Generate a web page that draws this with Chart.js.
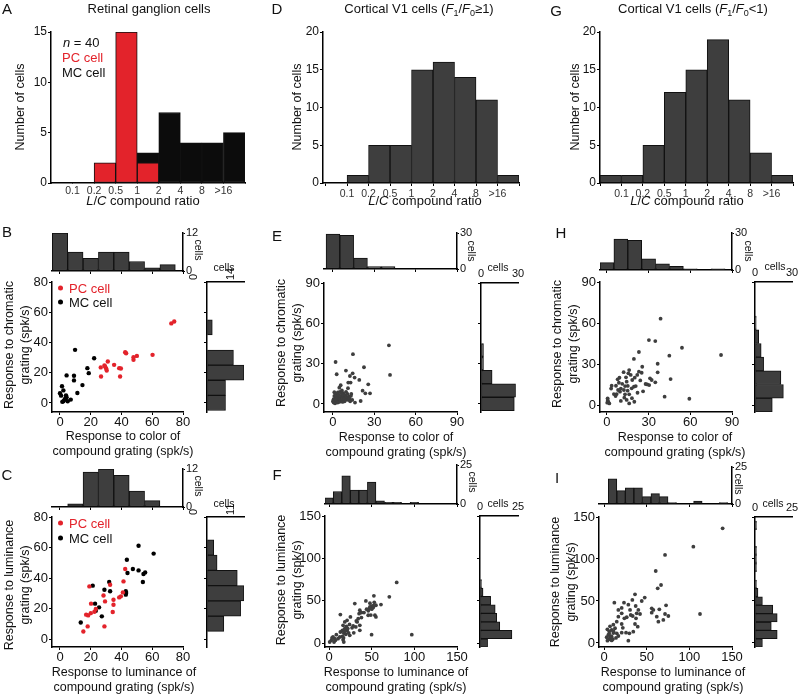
<!DOCTYPE html>
<html>
<head>
<meta charset="utf-8">
<script src="https://cdn.jsdelivr.net/npm/chart.js@4.4.1/dist/chart.umd.min.js"></script>
<style>
body { margin: 0; background: #fff; }
#fig { position: relative; width: 800px; height: 694px; overflow: hidden; font-family: "Liberation Sans", Arial, sans-serif; color: #111; }
#fig canvas { position: absolute; }
.t { position: absolute; white-space: nowrap; transform: translate(-50%, -50%); line-height: 15px; text-align: center; }
sub { font-size: 9px; vertical-align: -3px; line-height: 0; }
.dot { display: inline-block; width: 5px; height: 5px; border-radius: 50%; margin-right: 6px; vertical-align: 2px; }
</style>
</head>
<body>
<div id="fig"></div>
<script>
// L/C ratio histograms (bins: <0.1, 0.1-0.2, ... , >16)
const ratioTicks = ['0.1', '0.2', '0.5', '1', '2', '4', '8', '>16'];
const aPC = [0, 0, 2, 15, 2, 0, 0, 0, 0];
const aMC = [0, 0, 0, 0, 1, 7, 4, 4, 5];
const dCounts = [0, 1, 5, 5, 15, 16, 14, 11, 1];
const gCounts = [1, 1, 5, 12, 15, 19, 11, 4, 1];

const ticks80 = [0, 20, 40, 60, 80];
const ticks90 = [0, 30, 60, 90];
const ticks150 = [0, 50, 100, 150];

// B: color of compound vs chromatic (retina)
const bPC = [[72.4,52.6],[74.3,53.9],[42.4,33.5],[43,32.9],[50,31.1],[47.8,30.2],[47.8,28.5],[60.2,31.8],[31.1,27.4],[26.5,23.5],[29.3,24.1],[30,22.8],[30.4,21.5],[35.2,25.2],[38.5,23],[39.6,22.8],[26.7,17.5],[39.1,17.5],[28.9,24.8]];
const bMC = [[9.8,35.1],[22.2,29.6],[17.8,23],[18.7,19.7],[9.1,18],[9.1,14.9],[4.3,18.2],[14.6,11.8],[1.3,11],[2.2,8.3],[0,6.4],[3.9,5],[4.3,3.7],[3,2.2],[1.5,0.7],[11.3,6.6],[7,2.2],[5,1.1],[3.5,3.1],[2.2,1.1],[0.7,4.8]];
const bTop = [12, 6, 4, 6, 6, 3, 1, 2];
const bRight = [7, 7, 14, 10, 0, 2, 0];

// C: luminance of compound vs luminance (retina)
const cPC = [[42.4,45.9],[41.3,37.8],[40.9,30.6],[39.6,28],[38.5,27.3],[32.6,35.6],[34.8,25.8],[34.8,22.5],[34.3,17.7],[29.3,24.7],[28.3,28.6],[19.1,34.5],[20.2,23.2],[23.3,19.7],[22.4,17.9],[20,17],[17,16],[18,8.3],[15.2,5],[28.9,8.3],[18.3,15.5]];
const cMC = [[51.1,61.2],[60.9,56],[43.5,52],[43.9,43.3],[47.4,45.9],[51.1,45],[55.4,43.7],[54.3,42.6],[53.9,37.4],[42.8,31.3],[42.8,29.1],[32,37.4],[32.6,31.3],[28.9,32.3],[21.3,35],[22.8,23.2],[23.3,18.6],[25.4,20.8],[27.2,14.9],[13.5,10.9],[43,30.2]];
const cTop = [0, 1, 11, 12, 10, 5, 2];
const cRight = [0, 5, 10, 11, 9, 3, 2];

// E: V1 F1/F0>=1, color vs chromatic
const eCells = [[40.6,43.6],[41.4,21.6],[14.5,37],[1.9,31.2],[2.7,22.1],[9.4,24.8],[14.3,22.8],[22.5,27.3],[15.7,19.6],[12.3,20.8],[12.8,15.9],[11.1,15.9],[19.1,17.9],[25.6,14.6],[5.6,13.9],[4.6,12.1],[21.5,9.9],[26.9,7.9],[23.5,7.9],[10.9,11.7],[13.3,7.4],[20.1,2.2],[16,1],[1,8.7],
  [0.5,1],[1,2.5],[1.5,4],[2,1],[2.5,3],[3,5.5],[3,2],[1,6],[4,3],[4.5,1.5],[2,7],[3.5,8.5],[0.5,3.5],[2.5,5],[4,6.5],[1.5,0.5],[3.5,1],[4.5,4.5],[0,2],[2,3.5],
  [5,4],[5.5,2],[6,6],[6.5,3],[7,5],[7.5,8],[8,4],[8.5,2],[9,6],[9.5,3.5],[10,5],[10.5,7.5],[11,3],[11.5,5.5],[12,4],[12.5,2],[13,6],[14,3],[5,9],[6.5,10],[7,1.5],[8,7],[9.5,9],[6,8]];
const eTop = [29, 28, 9, 2, 2, 0, 0, 0, 0];
const eRight = [27, 28, 9, 2, 2, 0, 0, 0, 0];

// F: V1 F1/F0>=1, luminance
const fCells = [[79.3,71.5],[70.7,54.5],[52.6,55.7],[43.2,49.7],[30.2,46.6],[60.9,45.4],[55,44.6],[49.9,43.4],[47.9,42.6],[51.8,41.8],[47.1,40.7],[36.1,38.7],[38.1,35.9],[35.3,34.7],[45.9,32.8],[53.8,32.8],[55,30.8],[25.1,30.8],[13.3,33.6],[34.2,28.8],[33,24.9],[36.1,20.9],[31.4,19],[28.3,20.1],[36.1,15],[21.2,26.8],[18.5,24.9],[16.5,20.9],[20.4,19.7],[18.5,17],[21.2,15],[15.7,15],[17.3,11.8],[13.3,13],[19.6,10.3],[15.7,7.9],[16.5,3.9],[17.3,1.2],[8.6,9.9],[4.7,7.1],[6.7,5.1],[2.7,3.2],[0.8,1.2],[10.6,5.1],[7.5,3.2],[49.9,9.9],[97,9.9],[24.3,9.1],[12.6,7.1],[5.9,1.2],
  [3.5,6],[17,6],[19,14],[22,17],[23,12],[24,22],[27,18],[32,26],[29,12],[38,30],[41,36],[44,40],[48,47],[50,40],[52,44],[46,38],[53,48],[49,33]];
const fTop = [4, 8, 18, 9, 9, 14, 2, 1, 1, 0, 1, 0, 0, 0, 0];
const fRight = [5, 21, 13, 11, 10, 7, 2, 1, 0, 0, 0, 0, 0, 0, 0];

// H: V1 F1/F0<1, color vs chromatic
const hCells = [[38.6,63.2],[30.2,47.5],[34.8,46.8],[54,41.9],[82.1,36.6],[44.9,36.1],[23,38.8],[19.4,33.7],[36.5,30.2],[36.5,23.9],[31,19.5],[32.2,18.3],[45.8,19],[34.8,16.6],[29,15.1],[30.4,14.6],[41.5,6.1],[59.3,4.6],[25.4,28],[23,24.4],[21.8,22],[25,23.6],[16,25.6],[15.4,23.2],[17.1,22],[13.7,20.3],[18.2,18.3],[14.2,17.1],[7.7,18.8],[8.6,16.3],[3.4,14.1],[6.5,14.1],[13,13.9],[19.4,13.4],[20.7,13.9],[17.8,12.2],[12.2,11],[14.9,10.5],[9.4,9.8],[7,8],[6.2,6.6],[13,7.8],[16,7.8],[12.5,5.4],[14.2,3.7],[16,1.2],[19.7,2.4],[0.5,4.9],[0.9,2.4],[0.2,1.7],[1.7,1.2],[0.5,3.6],[27.8,15.4],
  [10,12],[11,15.5],[9,20],[22,9],[24,18],[12,24],[5,8],[26,10],[3,12],[18,5],[10,3],[20,20],[15,14],[8,11]];
const hTop = [6, 25, 24, 9, 5, 3, 1, 0, 1];
const hRight = [14, 23, 21, 7, 5, 3, 1, 0, 0];

// I: V1 F1/F0<1, luminance
const iCells = [[139,136.5],[104.7,114.7],[71.5,104.8],[60.6,85.7],[66.8,69],[62.9,65.1],[112.5,34.5],[72.7,44.8],[47.7,54],[36.3,57.9],[33.2,51.2],[44.2,50],[23.4,48],[12.1,48],[20.7,41.7],[28.5,45.6],[30.5,39.3],[37.1,44],[40.2,39.3],[38.3,35.3],[42.2,34.5],[31.3,33.3],[26.6,30.6],[33.6,32.1],[55.9,41.3],[57.8,39.3],[64.8,40.1],[55.9,36.1],[61.8,31.3],[63.7,25.4],[69.5,27.4],[75.4,32.1],[71.5,34.5],[16.8,39.3],[20.7,35.3],[23.8,29.4],[16.8,31.3],[14.9,25.4],[20.7,22.6],[37.5,29.4],[36.3,22.6],[39.5,19.4],[34.3,13.5],[29.7,11.5],[28.5,2.7],[14.9,11.5],[20.7,12.3],[25.8,12.3],[10.9,21.8],[7,19.8],[9,15.5],[12.9,17.5],[6.2,13.9],[10.9,11.9],[5,9.5],[9,7.5],[7,5.6],[3.1,6.8],[6.2,4.4],[10.2,4.4],[3.9,16.3],[16.8,8.3],[4,2.7],
  [8,8],[6,11],[11,14],[14,6],[22,18],[9,3]];
const iTop = [0, 17, 9, 11, 11, 5, 7, 5, 1, 0, 0, 2, 0, 0, 1];
const iRight = [5, 15, 11, 15, 12, 5, 2, 1, 0, 1, 1, 1, 0, 0, 1];

const RED = '#e3232b';
const GREY = '#3e3e3e';
const FONT = '"Liberation Sans", Arial, sans-serif';
const P = 40;
const fig = document.getElementById('fig');
Chart.defaults.font.family = FONT;

function canvasAt(l, t, r, b) {
  const c = document.createElement('canvas');
  const w = r - l + 2 * P, h = b - t + 2 * P;
  c.width = w; c.height = h;
  c.style.left = (l - P) + 'px';
  c.style.top = (t - P) + 'px';
  c.style.width = w + 'px';
  c.style.height = h + 'px';
  fig.appendChild(c);
  return c;
}

function axis(pos, min, max, ticks, o = {}) {
  return {
    type: 'linear', position: pos, min: min, max: max, offset: false,
    stacked: !!o.stacked,
    afterBuildTicks: s => { s.ticks = ticks.map(v => ({ value: v })); },
    afterFit: s => { if (pos === 'left' || pos === 'right') s.width = P; else s.height = P; },
    border: { display: true, color: '#000', width: 1.5 },
    grid: { display: true, offset: false, drawOnChartArea: false, drawTicks: true, tickLength: o.tick ?? 4, color: '#000', lineWidth: 1 },
    ticks: {
      display: !!o.labels, autoSkip: false, color: o.color || '#111', padding: o.pad ?? 1,
      font: { family: FONT, size: o.fs || 12 },
      maxRotation: o.rot || 0, minRotation: o.rot || 0,
      callback: o.cb || (v => String(v))
    }
  };
}

function options(padding, scales, indexAxis) {
  return {
    responsive: false, animation: false, events: [],
    indexAxis: indexAxis || 'x',
    layout: { padding: padding },
    plugins: { legend: { display: false }, tooltip: { enabled: false } },
    scales: scales
  };
}

function histData(counts, start, w, horiz) {
  return counts.map((c, i) => horiz ? { x: c, y: start + (i + 0.5) * w } : { x: start + (i + 0.5) * w, y: c });
}

function bars(data, color) {
  return { data: data, backgroundColor: color || GREY, borderColor: '#111', borderWidth: 1,
    borderSkipped: false, barPercentage: 1, categoryPercentage: 1 };
}

function text(html, x, y, size, style) {
  const d = document.createElement('div');
  d.className = 't';
  d.innerHTML = html;
  d.style.left = x + 'px';
  d.style.top = y + 'px';
  d.style.fontSize = size + 'px';
  if (style) Object.assign(d.style, style);
  fig.appendChild(d);
}
const ROT = { transform: 'translate(-50%, -50%) rotate(-90deg)' };
const ROTCW = { transform: 'translate(-50%, -50%) rotate(90deg)' };
const LEFT = { transform: 'translate(0, -50%)' };

// ---- top row: ratio histograms ----
function ratioHist(area, xMin, datasets, yMax, yTicks, showXTicks) {
  const c = canvasAt(area[0], area[1], area[2], area[3]);
  new Chart(c, {
    type: 'bar',
    data: { datasets: datasets },
    options: options({ top: P, right: P }, {
      x: axis('bottom', xMin, 9, [0, 1, 2, 3, 4, 5, 6, 7, 8, 9], {
        labels: true, fs: 10.5, color: '#333', pad: 2, stacked: true, tick: showXTicks ? 3 : 0,
        cb: v => (v >= 1 && v <= 8) ? ratioTicks[v - 1] : ''
      }),
      y: axis('left', 0, yMax, yTicks, { labels: true, fs: 12, tick: 3, stacked: true })
    })
  });
}
ratioHist([51, 32, 245, 183], 0, [bars(histData(aPC, 0, 1), RED), bars(histData(aMC, 0, 1), '#0c0c0c')], 15, [0, 5, 10, 15], false);
ratioHist([323, 32, 519, 183], -0.12, [bars(histData(dCounts, 0, 1))], 20, [0, 5, 10, 15, 20], true);
ratioHist([600, 32, 793, 183], 0, [bars(histData(gCounts, 0, 1))], 20, [0, 5, 10, 15, 20], true);

// ---- scatter panels with marginal histograms ----
function scatterPanel(p) {
  let c = canvasAt(p.main[0], p.main[1], p.main[2], p.main[3]);
  new Chart(c, {
    type: 'scatter',
    data: { datasets: p.sets.map(s => ({ data: s.pts.map(q => ({ x: q[0], y: q[1] })), pointRadius: p.r,
      pointBackgroundColor: s.color, pointBorderWidth: 0 })) },
    options: options({ top: P, right: P }, {
      x: axis('bottom', p.xMin, p.xMax, p.ticks, { labels: true, fs: 13, tick: 3, pad: 0 }),
      y: axis('left', p.yMin, p.yMax, p.ticks, { labels: true, fs: 13, tick: 3, pad: 1 })
    })
  });
  c = canvasAt(p.main[0], p.top[0], p.main[2], p.top[1]);
  new Chart(c, {
    type: 'bar',
    data: { datasets: [bars(histData(p.topCounts, -5, 10, false))] },
    options: options({ left: P, top: P }, {
      x: axis('bottom', p.xMin, p.xMax, p.ticks, { tick: 3 }),
      y: axis('right', 0, p.topMax, [0, p.topMax], { labels: true, fs: 11, tick: 2, pad: 1 })
    })
  });
  c = canvasAt(p.right[0], p.main[1], p.right[1], p.main[3]);
  new Chart(c, {
    type: 'bar',
    data: { datasets: [bars(histData(p.rightCounts, -5, 10, true))] },
    options: options({ right: P, bottom: P }, {
      x: axis('top', 0, p.rightMax, [0, p.rightMax], { labels: true, fs: 11, tick: 0, pad: 2, rot: p.rot || 0 }),
      y: axis('left', p.yMin, p.yMax, p.ticks, { tick: 3 })
    }, 'y')
  });
}

scatterPanel({ main: [52, 282, 183, 412], xMin: -5.2, xMax: 80, yMin: -6, yMax: 80, ticks: ticks80, r: 2.2,
  sets: [{ pts: bPC, color: RED }, { pts: bMC, color: '#000' }],
  top: [233, 271], topCounts: bTop, topMax: 12, right: [207, 244], rightCounts: bRight, rightMax: 14, rot: 90 });
scatterPanel({ main: [52, 517, 183, 647], xMin: -5.2, xMax: 80, yMin: -5.2, yMax: 80, ticks: ticks80, r: 2.2,
  sets: [{ pts: cPC, color: RED }, { pts: cMC, color: '#000' }],
  top: [469, 507], topCounts: cTop, topMax: 12, right: [207, 244], rightCounts: cRight, rightMax: 11, rot: 90 });
scatterPanel({ main: [324, 283, 457, 412], xMin: -6.5, xMax: 90, yMin: -6, yMax: 90, ticks: ticks90, r: 1.9,
  sets: [{ pts: eCells, color: GREY }],
  top: [233, 269], topCounts: eTop, topMax: 30, right: [481, 518], rightCounts: eRight, rightMax: 30 });
scatterPanel({ main: [600, 282, 732, 412], xMin: -5, xMax: 90, yMin: -5.1, yMax: 90, ticks: ticks90, r: 1.9,
  sets: [{ pts: hCells, color: GREY }],
  top: [233, 270], topCounts: hTop, topMax: 30, right: [755, 792], rightCounts: hRight, rightMax: 30 });
scatterPanel({ main: [325, 516, 457, 647], xMin: -4.7, xMax: 150, yMin: -4.7, yMax: 150, ticks: ticks150, r: 1.9,
  sets: [{ pts: fCells, color: GREY }],
  top: [465, 504], topCounts: fTop, topMax: 25, right: [480, 518], rightCounts: fRight, rightMax: 25 });
scatterPanel({ main: [599, 517, 732, 647], xMin: -5.9, xMax: 150, yMin: -4.8, yMax: 150, ticks: ticks150, r: 1.9,
  sets: [{ pts: iCells, color: GREY }],
  top: [467, 504], topCounts: iTop, topMax: 25, right: [755, 792], rightCounts: iRight, rightMax: 25 });

// ---- text ----
const F10 = '<i>F</i><sub>1</sub>/<i>F</i><sub>0</sub>';
text('Retinal ganglion cells', 149, 8, 13);
text('Cortical V1 cells (' + F10 + '≥1)', 419, 8, 13);
text('Cortical V1 cells (' + F10 + '&lt;1)', 693, 8, 13);

[['A', 7, 8], ['D', 277, 8], ['G', 556, 10], ['B', 7, 231], ['E', 277, 235], ['H', 561, 232],
 ['C', 7, 474], ['F', 277, 474], ['I', 557, 477]].forEach(l => text(l[0], l[1], l[2], 15));

text('<i>n</i> = 40', 63, 42, 13, LEFT);
text('PC cell', 62, 57, 13, Object.assign({ color: RED }, LEFT));
text('MC cell', 62, 72, 13, LEFT);

[20, 297, 575].forEach(x => text('Number of cells', x, 107, 12.5, ROT));
[143, 425, 687].forEach(x => text('<i>L</i>/<i>C</i> compound ratio', x, 200, 13));

// scatter legends
[[288, 302], [523, 538]].forEach(yy => {
  text('<span class="dot" style="background:' + RED + '"></span>PC cell', 58, yy[0], 13, Object.assign({ color: RED }, LEFT));
  text('<span class="dot" style="background:#000"></span>MC cell', 58, yy[1], 13, LEFT);
});

// scatter axis titles
const colorX = 'Response to color of<br>compound grating (spk/s)';
const lumX = 'Response to luminance of<br>compound grating (spk/s)';
const chromY = 'Response to chromatic<br>grating (spk/s)';
const lumY = 'Response to luminance<br>grating (spk/s)';
text(colorX, 123, 444, 12.5);
text(colorX, 396, 445, 12.5);
text(colorX, 675, 445, 12.5);
text(lumX, 124, 680, 12.5);
text(lumX, 396, 680, 12.5);
text(lumX, 673, 680, 12.5);
text(chromY, 17, 345, 12.5, Object.assign({ lineHeight: '16px' }, ROT));
text(chromY, 289, 343, 12.5, Object.assign({ lineHeight: '16px' }, ROT));
text(chromY, 565, 344, 12.5, Object.assign({ lineHeight: '16px' }, ROT));
text(lumY, 17, 585, 12.5, Object.assign({ lineHeight: '16px' }, ROT));
text(lumY, 289, 580, 12.5, Object.assign({ lineHeight: '16px' }, ROT));
text(lumY, 563, 582, 12.5, Object.assign({ lineHeight: '16px' }, ROT));

// marginal "cells" labels
[[198, 250], [198, 486], [471, 251], [748, 251], [472, 482], [738, 484]].forEach(q => text('cells', q[0], q[1], 10.5, ROTCW));
[[224, 267], [224, 503], [498, 267], [775, 266], [498, 503], [773, 503]].forEach(q => text('cells', q[0], q[1], 10.5));
</script>
</body>
</html>
